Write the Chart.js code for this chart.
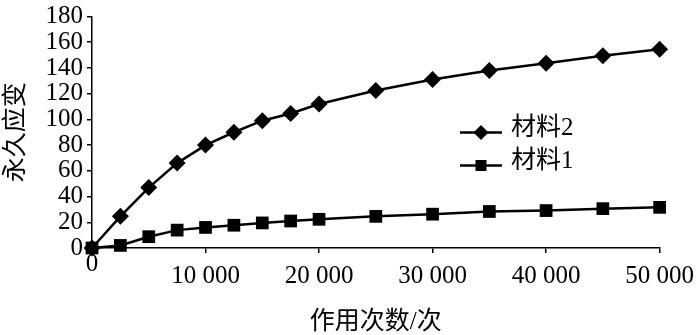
<!DOCTYPE html>
<html>
<head>
<meta charset="utf-8">
<script src="https://cdn.jsdelivr.net/npm/chart.js@4"></script>
<style>
  html, body { margin: 0; padding: 0; background: #fff; }
  #wrap { width: 700px; height: 335px; }
</style>
</head>
<body>
<div id="wrap"><canvas id="c" width="700" height="335"></canvas></div>
<script>
const cycles = [0, 2500, 5000, 7500, 10000, 12500, 15000, 17500, 20000, 25000, 30000, 35000, 40000, 45000, 50000];
const material2 = [0, 24.6, 47, 66, 80, 90, 99, 104.6, 112, 122.5, 131, 138, 143.7, 149.5, 154.6];
const material1 = [0, 2, 8.8, 13.9, 16, 17.7, 19.5, 21, 22.3, 24.6, 26.3, 28.4, 29.1, 30.6, 31.6];
const seriesNames = ['材料2', '材料1'];
const xTickValues = [0, 10000, 20000, 30000, 40000, 50000];
const xTickLabels = ['0', '10 000', '20 000', '30 000', '40 000', '50 000'];
const yTickValues = [0, 20, 40, 60, 80, 100, 120, 140, 160, 180];
const yTickLabels = ['0', '20', '40', '60', '80', '100', '120', '140', '160', '180'];
const xTitle = '作用次数/次';
const yTitle = '永久应变';

const FONT = '"Liberation Serif", "Noto Sans CJK SC", serif';

const legendPlugin = {
  id: 'inlineLegend',
  afterDatasetsDraw(chart) {
    const ctx = chart.ctx;
    const ca = chart.chartArea;
    const rows = [{ ds: 0, dy: 116 }, { ds: 1, dy: 149 }];
    ctx.save();
    rows.forEach(r => {
      const ds = chart.data.datasets[r.ds];
      const y = ca.top + r.dy;
      const x0 = ca.left + 368, x1 = ca.left + 410, xm = (x0 + x1) / 2;
      ctx.strokeStyle = '#000';
      ctx.lineWidth = 2.5;
      ctx.beginPath(); ctx.moveTo(x0, y); ctx.lineTo(x1, y); ctx.stroke();
      ctx.fillStyle = '#000';
      ctx.beginPath();
      if (ds.pointStyle === 'rectRot') {
        const s = 7.5;
        ctx.moveTo(xm - s, y); ctx.lineTo(xm, y - s); ctx.lineTo(xm + s, y); ctx.lineTo(xm, y + s); ctx.closePath();
      } else {
        const s = 5.5;
        ctx.rect(xm - s, y - s, 2 * s, 2 * s);
      }
      ctx.fill();
      ctx.font = '25px ' + FONT;
      ctx.textBaseline = 'middle';
      ctx.textAlign = 'left';
      ctx.fillText(ds.label, ca.left + 419, y - 4);
    });
    ctx.restore();
  }
};

const toPoints = arr => arr.map((v, i) => ({ x: cycles[i], y: v }));

new Chart(document.getElementById('c'), {
  type: 'line',
  data: {
    datasets: [
      {
        label: seriesNames[0],
        data: toPoints(material2),
        borderColor: '#000', backgroundColor: '#000',
        borderWidth: 2.5, pointStyle: 'rectRot', pointRadius: 8.5,
        pointBorderWidth: 0, tension: 0, clip: false
      },
      {
        label: seriesNames[1],
        data: toPoints(material1),
        borderColor: '#000', backgroundColor: '#000',
        borderWidth: 2.5, pointStyle: 'rect', pointRadius: 9,
        pointBorderWidth: 0, tension: 0, clip: false
      }
    ]
  },
  options: {
    responsive: false,
    animation: false,
    events: [],
    layout: { padding: { top: 12, right: 39, bottom: 0, left: 0 } },
    plugins: { legend: { display: false }, tooltip: { enabled: false } },
    scales: {
      x: {
        type: 'linear', min: 0, max: 50000,
        afterFit: s => { s.height = 87; },
        afterBuildTicks: s => { s.ticks = xTickValues.map(v => ({ value: v })); },
        border: { color: '#000', width: 1.5 },
        grid: { drawOnChartArea: false, drawTicks: true, tickLength: 5, color: '#000', lineWidth: 1.5 },
        ticks: {
          color: '#000', padding: 6, maxRotation: 0, autoSkip: false,
          font: { family: FONT, size: 25, lineHeight: 0.46 },
          callback: v => {
            const i = xTickValues.indexOf(v);
            const t = i >= 0 ? xTickLabels[i] : '';
            return v === 0 ? t : ['', t];
          }
        },
        title: {
          display: true, text: xTitle, color: '#000',
          font: { family: FONT, size: 25, lineHeight: 1 },
          padding: { top: 0, bottom: 0.5 }
        }
      },
      y: {
        min: 0, max: 180,
        afterFit: s => { s.width = 92; },
        afterBuildTicks: s => { s.ticks = yTickValues.map(v => ({ value: v })); },
        border: { color: '#000', width: 1.5 },
        grid: { drawOnChartArea: false, drawTicks: true, tickLength: 5, color: '#000', lineWidth: 1.5 },
        ticks: {
          color: '#000', padding: 4, autoSkip: false,
          font: { family: FONT, size: 25, lineHeight: 1 },
          callback: (v) => {
            const i = yTickValues.indexOf(v);
            return i >= 0 ? yTickLabels[i] : '';
          }
        },
        title: {
          display: true, text: yTitle, color: '#000',
          font: { family: FONT, size: 25, lineHeight: 1 },
          padding: { top: 3.5, bottom: 0 }
        }
      }
    }
  },
  plugins: [legendPlugin]
});
</script>
</body>
</html>
